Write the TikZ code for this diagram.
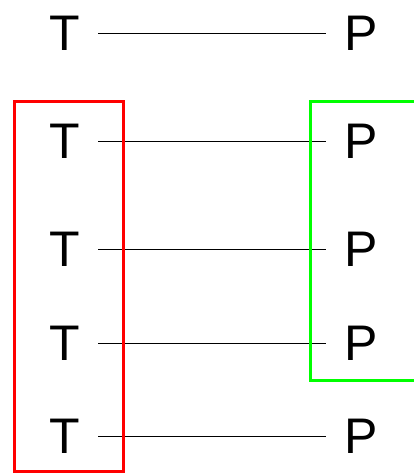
\documentclass[tikz,border=0pt]{standalone}
\usepackage{fontspec}
\setmainfont{Liberation Sans}
\begin{document}
\begin{tikzpicture}[x=1pt,y=-1pt,
    letter/.style={font=\fontsize{50}{60}\selectfont, inner xsep=18pt, inner ysep=0pt},
    link/.style={line width=0.9pt}]
    \useasboundingbox (0,0) rectangle (414,473);
    \clip (0,0) rectangle (414,473);
    % rows of T -- P pairs
    \foreach \i/\y in {1/33,2/141,3/249,4/343,5/436} {
        \node[letter] (t\i) at (65,\y) {T};
        \node[letter] (p\i) at (361,\y) {P};
        \draw[link] (t\i.east) -- (p\i.west);
    }
    % the two groups
    \draw[red, line width=3pt] (14.5,101.5) rectangle (123,471.5);
    \draw[green, line width=3pt] (310,101.5) rectangle (440,380);
\end{tikzpicture}
\end{document}
